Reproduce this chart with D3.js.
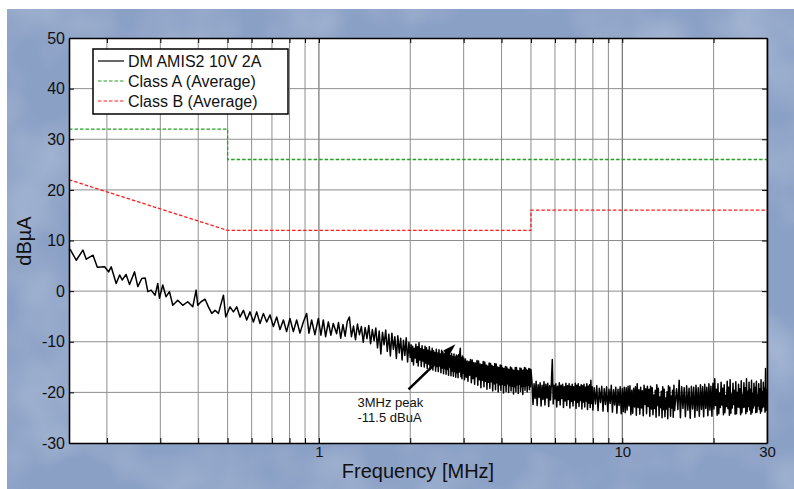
<!DOCTYPE html>
<html>
<head>
<meta charset="utf-8">
<script src="https://cdn.jsdelivr.net/npm/d3@7"></script>
<style>
  body { margin: 0; background: #fff; }
  text { font-family: "Liberation Sans", Arial, Helvetica, sans-serif; }
</style>
</head>
<body>
<svg></svg>
<script>
// ---- data ----
const yTicks = [-30, -20, -10, 0, 10, 20, 30, 40, 50];
const xGrid = [0.2, 0.3, 0.4, 0.5, 0.6, 0.7, 0.8, 0.9, 1, 2, 3, 4, 5, 6, 7, 8, 9, 10, 20, 30];
const xTickLabels = [1, 10, 30];

// limit lines [MHz, dBuA]
const classA = [[0.15, 32], [0.5, 32], [0.5, 26], [30, 26]];
const classB = [[0.15, 22], [0.5, 12], [5, 12], [5, 16], [30, 16]];

// measured DM trace [MHz, dBuA]
const trace = [
  [0.150,8.4],[0.1518,8.1],[0.1585,6.1],[0.1667,8.1],[0.171,6.3],[0.180,7.1],[0.186,4.7],[0.1965,4.8],
  [0.2026,3.8],[0.2066,4.8],[0.2146,1.5],[0.2203,3.2],[0.2246,2.2],[0.2314,3.3],[0.2375,1.3],[0.2467,3.8],
  [0.2529,0.9],[0.2607,2.5],[0.2674,2.6],[0.2729,-0.1],[0.2798,0.2],[0.2884,-0.8],[0.2943,1.5],[0.298,-1.4],
  [0.3056,1.2],[0.3134,-1.1],[0.3216,-0.1],[0.3298,-2.8],[0.3425,-1.8],[0.3557,-2.8],[0.3694,-2.1],[0.3838,-3.1],
  [0.3936,0.2],[0.3987,-2.8],[0.4088,-2.1],[0.4213,-1.6],[0.4323,-3.1],[0.4433,-4.4],[0.4546,-3.8],[0.4664,-4.4],
  [0.4844,-0.8],[0.493,-5.1],[0.5093,-3.1],[0.5225,-4.1],[0.5358,-3.1],[0.5495,-5.1],[0.5638,-3.8],[0.5781,-5.7],
  [0.5927,-4.1],[0.6081,-6.1],[0.6236,-4.1],[0.6394,-6.4],[0.656,-4.4],[0.6727,-6.1],[0.6898,-4.7],[0.7077,-7.0],
  [0.7257,-5.1],[0.744,-7.6],[0.7636,-5.7],[0.7825,-8.0],[0.8026,-5.4],[0.8236,-8.0],[0.8445,-5.7],[0.8659,-8.3],
  [0.8884,-6.1],[0.911,-4.4],[0.9271,-8.3],[0.9462,-5.7],[0.9701,-8.6],[0.9954,-5.4],[1.0153,-8.7],[1.034,-5.7],
  [1.052,-9.0],[1.074,-6.1],[1.095,-8.7],[1.115,-6.4],[1.144,-8.4],
  [1.16,-6.2],[1.18,-9.3],[1.20,-6.6],[1.22,-8.9],[1.24,-6.0],[1.26,-5.1],[1.28,-9.0],[1.30,-6.9],
  [1.32,-9.6],[1.34,-6.5],[1.36,-8.6],[1.38,-7.0],[1.40,-10.1],[1.42,-7.2],[1.44,-9.4],[1.46,-6.8],
  [1.48,-10.4],[1.50,-7.6],[1.52,-9.8],[1.54,-7.3],[1.56,-11.2],[1.58,-7.9],[1.60,-12.4],[1.62,-8.1],
  [1.64,-10.6],[1.66,-7.7],[1.68,-11.9],[1.70,-8.5],[1.72,-12.8],[1.74,-8.3],[1.76,-11.5],[1.78,-9.0],
  [1.80,-13.3],[1.82,-8.8],[1.84,-12.2],[1.86,-9.3],[1.88,-13.6],[1.90,-9.7],[1.92,-12.7],[1.94,-9.2],
  [1.96,-14.0],[1.98,-10.1],[2.00,-13.1],
  [2.0125,-10.6],[2.025,-13.9],[2.0375,-10.9],[2.05,-14.6],[2.0625,-11.3],[2.075,-13.2],[2.0875,-10.5],[2.10,-14.1],
  [2.1125,-11.0],[2.125,-14.8],[2.1375,-10.2],[2.15,-13.6],[2.1625,-11.4],[2.175,-14.9],[2.1875,-10.8],[2.20,-13.8],
  [2.2125,-11.6],[2.225,-15.0],[2.2375,-10.9],[2.25,-14.2],[2.2625,-11.2],[2.275,-15.3],[2.2875,-11.7],[2.30,-14.4],
  [2.3125,-11.0],[2.325,-15.5],[2.3375,-11.9],[2.35,-14.6],[2.3625,-11.3],[2.375,-15.6],[2.3875,-11.8],[2.40,-14.1],
  [2.4125,-12.1],[2.425,-15.8],[2.4375,-11.5],[2.45,-14.9],[2.4625,-12.2],[2.475,-15.9],[2.4875,-11.6],[2.50,-14.8],
  [2.5125,-12.4],[2.525,-16.1],[2.5375,-11.7],[2.55,-15.2],[2.5625,-12.0],[2.575,-16.3],[2.5875,-12.5],[2.60,-15.3],
  [2.6125,-11.9],[2.625,-16.4],[2.6375,-12.6],[2.65,-15.5],[2.6625,-12.1],[2.675,-16.6],[2.6875,-12.2],[2.70,-15.0],
  [2.7125,-12.7],[2.725,-16.7],[2.7375,-12.3],[2.75,-15.8],[2.7625,-12.9],[2.775,-16.8],[2.7875,-12.4],[2.80,-15.9],
  [2.8125,-13.0],[2.825,-17.0],[2.8375,-12.6],[2.85,-16.1],[2.8625,-12.8],[2.875,-17.1],[2.8875,-12.5],[2.90,-16.0],
  [2.9125,-12.2],[2.925,-11.3],[2.9375,-16.9],[2.95,-13.1],[2.9625,-17.3],[2.975,-12.8],[2.9875,-16.2],[3.00,-13.2],
  [3.02,-17.5],[3.04,-13.4],[3.06,-17.0],[3.08,-13.8],[3.10,-17.8],[3.12,-13.9],[3.14,-16.6],[3.16,-13.5],
  [3.18,-18.1],[3.20,-13.6],[3.22,-17.3],[3.24,-14.1],[3.26,-18.4],[3.28,-14.2],[3.30,-16.9],[3.32,-13.7],
  [3.34,-18.6],[3.36,-13.8],[3.38,-17.5],[3.40,-14.4],[3.42,-19.1],[3.44,-14.5],[3.46,-17.6],[3.48,-13.9],
  [3.50,-18.9],[3.52,-14.0],[3.54,-17.8],[3.56,-14.6],[3.58,-19.4],[3.60,-14.8],[3.62,-18.0],[3.64,-14.2],
  [3.66,-19.2],[3.68,-14.3],[3.70,-17.9],[3.72,-14.7],[3.74,-19.7],[3.76,-14.9],[3.78,-18.3],[3.80,-14.3],
  [3.82,-19.5],[3.84,-14.4],[3.86,-18.1],[3.88,-15.0],[3.90,-19.9],[3.92,-15.1],[3.94,-18.5],[3.96,-14.6],
  [3.98,-19.6],[4.00,-14.7],[4.02,-18.4],[4.04,-15.2],[4.06,-20.1],[4.08,-15.3],[4.10,-18.6],[4.12,-14.9],
  [4.14,-19.8],[4.16,-15.0],[4.18,-18.3],[4.20,-15.4],[4.22,-20.0],[4.24,-15.5],[4.26,-18.7],[4.28,-15.0],
  [4.30,-19.7],[4.32,-15.2],[4.34,-18.8],[4.36,-15.6],[4.38,-20.3],[4.40,-15.7],[4.42,-18.9],[4.44,-15.1],
  [4.46,-19.9],[4.48,-15.1],[4.50,-18.5],[4.52,-15.7],[4.54,-20.2],[4.56,-15.8],[4.58,-18.4],[4.60,-15.2],
  [4.62,-19.8],[4.64,-15.3],[4.66,-18.9],[4.68,-15.7],[4.70,-20.4],[4.72,-15.6],[4.74,-18.8],[4.76,-15.1],
  [4.78,-19.6],[4.80,-15.2],[4.82,-18.7],[4.84,-15.6],[4.86,-19.9],[4.88,-15.7],[4.90,-18.6],[4.92,-15.3],
  [4.94,-19.5],[4.96,-15.4],[4.98,-18.9],[5.00,-15.5],
  [5.04,-18.0],[5.08,-22.4],[5.12,-18.3],[5.16,-21.2],[5.20,-17.8],[5.24,-22.6],[5.28,-18.5],[5.32,-21.0],
  [5.36,-18.1],[5.40,-22.7],[5.44,-18.6],[5.48,-21.4],[5.52,-17.9],[5.56,-22.5],[5.60,-18.4],[5.64,-21.1],
  [5.68,-18.2],[5.72,-22.8],[5.76,-18.7],[5.80,-21.5],[5.84,-18.0],[5.88,-13.5],[5.92,-22.3],[5.96,-18.6],
  [6.00,-21.3],[6.04,-18.3],[6.08,-22.9],[6.12,-18.8],[6.16,-21.6],[6.20,-18.1],[6.24,-22.5],[6.28,-18.6],
  [6.32,-21.2],[6.36,-18.4],[6.40,-23.0],[6.44,-18.9],[6.48,-21.7],[6.52,-18.2],[6.56,-22.6],[6.60,-18.7],
  [6.64,-21.4],[6.68,-18.3],[6.72,-23.1],[6.76,-18.8],[6.80,-21.8],[6.84,-18.4],[6.88,-22.7],[6.92,-18.9],
  [6.96,-21.5],[7.00,-18.2],[7.04,-23.2],[7.08,-18.6],[7.12,-22.0],[7.16,-18.3],[7.20,-22.8],[7.24,-18.9],
  [7.28,-21.6],[7.32,-18.5],[7.36,-23.3],[7.40,-18.7],[7.44,-21.9],[7.48,-18.4],[7.52,-22.9],[7.56,-19.0],
  [7.60,-21.7],[7.64,-18.3],[7.68,-23.4],[7.72,-18.8],[7.76,-22.1],[7.80,-18.5],[7.84,-23.0],[7.88,-17.6],
  [7.92,-22.2],[7.96,-18.9],[8.00,-23.5],[8.08,-19.1],[8.16,-22.3],[8.24,-18.7],[8.32,-23.6],[8.40,-19.2],
  [8.48,-22.0],[8.56,-18.8],[8.64,-23.7],[8.72,-19.3],[8.80,-22.4],[8.88,-18.9],[8.96,-23.8],[9.04,-19.4],
  [9.12,-22.2],[9.20,-18.6],[9.28,-23.9],[9.36,-19.5],[9.44,-22.5],[9.52,-19.0],[9.60,-24.1],[9.68,-19.4],
  [9.76,-22.6],[9.84,-18.9],[9.92,-24.2],[10.0,-19.3],
  [10.075,-23.8],[10.15,-19.0],[10.225,-24.0],[10.30,-19.1],[10.375,-23.5],[10.45,-18.8],[10.525,-22.7],[10.60,-18.7],
  [10.675,-24.4],[10.75,-19.6],[10.825,-24.1],[10.90,-19.2],[10.975,-22.9],[11.05,-18.9],[11.125,-24.5],[11.20,-18.3],
  [11.275,-23.0],[11.35,-19.5],[11.425,-24.3],[11.50,-19.0],[11.575,-23.1],[11.65,-19.7],[11.725,-24.6],[11.80,-18.6],
  [11.875,-22.4],[11.95,-19.3],[12.025,-24.2],[12.10,-18.8],[12.175,-22.8],[12.25,-19.4],[12.325,-24.7],[12.40,-18.8],
  [12.475,-23.3],[12.55,-19.1],[12.625,-24.4],[12.70,-20.5],[12.775,-23.2],[12.85,-19.6],[12.925,-24.9],[13.00,-18.5],
  [13.075,-22.6],[13.15,-19.2],[13.225,-24.6],[13.30,-20.9],[13.375,-23.0],[13.45,-19.8],[13.525,-25.0],[13.60,-18.9],
  [13.675,-23.4],[13.75,-19.4],[13.825,-24.8],[13.90,-21.1],[13.975,-23.3],[14.05,-19.9],[14.125,-25.2],[14.20,-18.7],
  [14.275,-22.9],[14.35,-19.0],[14.425,-24.7],[14.50,-20.7],[14.575,-23.1],[14.65,-19.6],[14.725,-24.9],[14.80,-18.6],
  [14.875,-23.6],
  [15.10,-19.3],[15.25,-23.4],[15.40,-17.6],[15.55,-25.0],[15.70,-18.9],[15.85,-23.2],[16.00,-19.1],
  [16.15,-24.8],[16.30,-18.7],[16.45,-23.5],[16.60,-19.2],[16.75,-25.1],[16.90,-18.8],[17.05,-23.3],[17.20,-19.0],
  [17.35,-24.9],[17.50,-18.6],[17.65,-23.6],[17.80,-19.1],[17.95,-24.7],[18.10,-18.5],[18.25,-23.4],[18.40,-18.9],
  [18.55,-24.8],[18.70,-18.4],[18.85,-23.2],[19.00,-19.0],[19.15,-24.6],[19.30,-18.3],[19.45,-23.5],[19.60,-18.8],
  [19.75,-24.7],[19.90,-18.2],[20.05,-23.3],
  [20.175,-17.3],[20.30,-22.6],[20.425,-19.4],[20.55,-24.5],[20.675,-18.3],[20.80,-24.2],[20.925,-20.1],[21.05,-23.0],
  [21.175,-18.0],[21.30,-22.5],[21.425,-19.2],[21.55,-24.4],[21.675,-18.5],[21.80,-24.0],[21.925,-20.6],[22.05,-22.8],
  [22.175,-17.8],[22.30,-23.2],[22.425,-19.0],[22.55,-24.5],[22.675,-17.5],[22.80,-24.1],[22.925,-20.3],[23.05,-23.1],
  [23.175,-18.2],[23.30,-22.4],[23.425,-19.6],[23.55,-24.3],[23.675,-17.9],[23.80,-24.2],[23.925,-20.0],[24.05,-22.9],
  [24.175,-18.4],[24.30,-23.0],[24.425,-19.3],[24.55,-24.4],[24.675,-17.7],[24.80,-24.0],[24.925,-20.4],[25.05,-23.0],
  [25.175,-18.1],[25.30,-22.9],[25.425,-19.1],[25.55,-24.2],[25.675,-17.3],[25.80,-23.8],[25.925,-19.8],[26.05,-22.8],
  [26.175,-18.0],[26.30,-23.5],[26.425,-19.4],[26.55,-24.3],[26.675,-17.6],[26.80,-24.0],[26.925,-20.2],[27.05,-23.1],
  [27.175,-18.2],[27.30,-22.6],[27.425,-19.0],[27.55,-24.0],[27.675,-17.8],[27.80,-23.9],[27.925,-20.5],[28.05,-22.7],
  [28.175,-18.3],[28.30,-23.4],[28.425,-19.3],[28.55,-24.1],[28.675,-17.5],[28.80,-23.7],[28.925,-19.9],[29.05,-23.0],
  [29.175,-18.0],[29.30,-22.8],[29.425,-19.2],[29.55,-23.9],[29.675,-15.3],[29.80,-23.6],[29.925,-19.5],[30.00,-22.0]
];

const legendItems = [
  { label: "DM AMIS2 10V 2A", color: "#000", dash: null },
  { label: "Class A (Average)", color: "#22a022", dash: "3.5,2" },
  { label: "Class B (Average)", color: "#ff1a1a", dash: "3.5,2" }
];

// annotation: arrow tail/head and text anchor in data units
const peakArrow = [[1.974, -19.4], [2.818, -10.5]];
const peakText = [[1.34, "3MHz peak"], [1.34, "-11.5 dBuA"]];

// ---- layout ----
const W = 794, H = 489;
const margin = { top: 38, right: 27, bottom: 46, left: 69 };
const graphWidth = W - margin.left - margin.right;
const graphHeight = H - margin.top - margin.bottom;

const svg = d3.select("svg").attr("width", W).attr("height", H);

// mottled blue backdrop
const defs = svg.append("defs");
const f = defs.append("filter").attr("id", "mottle")
  .attr("x", 0).attr("y", 0).attr("width", "100%").attr("height", "100%");
f.append("feTurbulence").attr("type", "fractalNoise")
  .attr("baseFrequency", "0.011").attr("numOctaves", 3).attr("seed", 7);
f.append("feColorMatrix").attr("type", "matrix")
  .attr("values", "0 0 0 0 1  0 0 0 0 1  0 0 0 0 1  1.6 0 0 0 -0.7");

svg.append("rect").attr("x", 7).attr("y", 9).attr("width", W - 7).attr("height", H - 9)
  .attr("fill", "#8aa0c5");
svg.append("rect").attr("x", 7).attr("y", 9).attr("width", W - 7).attr("height", H - 9)
  .attr("filter", "url(#mottle)").attr("opacity", 0.35);

const graph = svg.append("g")
  .attr("transform", `translate(${margin.left}, ${margin.top})`);

graph.append("rect").attr("width", graphWidth).attr("height", graphHeight).attr("fill", "#fff");

const x = d3.scaleLog().domain([0.15, 30]).range([0, graphWidth]);
const y = d3.scaleLinear().domain([-30, 50]).range([graphHeight, 0]);

// grid
graph.append("g").selectAll("line").data(xGrid).enter().append("line")
  .attr("x1", (d) => x(d)).attr("x2", (d) => x(d))
  .attr("y1", 0).attr("y2", graphHeight)
  .attr("stroke", (d) => (d === 1 || d === 10 ? "#555" : "#8e8e8e"))
  .attr("stroke-width", 1);
graph.append("g").selectAll("line").data(yTicks.slice(1, -1)).enter().append("line")
  .attr("x1", 0).attr("x2", graphWidth)
  .attr("y1", (d) => y(d)).attr("y2", (d) => y(d))
  .attr("stroke", "#8e8e8e").attr("stroke-width", 1);

// limit lines
const line = d3.line().x((d) => x(d[0])).y((d) => y(d[1]));
graph.append("path").datum(classA).attr("d", line)
  .attr("fill", "none").attr("stroke", legendItems[1].color)
  .attr("stroke-width", 1.3).attr("stroke-dasharray", legendItems[1].dash);
graph.append("path").datum(classB).attr("d", line)
  .attr("fill", "none").attr("stroke", legendItems[2].color)
  .attr("stroke-width", 1.3).attr("stroke-dasharray", legendItems[2].dash);

// trace
graph.append("path").datum(trace).attr("d", line)
  .attr("fill", "none").attr("stroke", "#000")
  .attr("stroke-width", 1.5).attr("stroke-linejoin", "round");

// annotation arrow
const [t0, t1] = peakArrow.map((p) => [x(p[0]), y(p[1])]);
const ang = Math.atan2(t1[1] - t0[1], t1[0] - t0[0]);
const headLen = 13, headW = 4;
graph.append("line")
  .attr("x1", t0[0]).attr("y1", t0[1])
  .attr("x2", t1[0] - Math.cos(ang) * (headLen - 2))
  .attr("y2", t1[1] - Math.sin(ang) * (headLen - 2))
  .attr("stroke", "#000").attr("stroke-width", 2.6);
const bx = t1[0] - Math.cos(ang) * headLen, by = t1[1] - Math.sin(ang) * headLen;
graph.append("path")
  .attr("d", `M${t1[0]},${t1[1]}L${bx + Math.sin(ang) * headW},${by - Math.cos(ang) * headW}` +
    `L${bx - Math.sin(ang) * headW},${by + Math.cos(ang) * headW}Z`)
  .attr("fill", "#000");
graph.append("g").selectAll("text").data(peakText).enter().append("text")
  .attr("x", (d) => x(d[0]))
  .attr("y", (d, i) => y(-22.9) + i * 14.5)
  .attr("font-size", 13).attr("fill", "#111")
  .text((d) => d[1]);

// axes with inward ticks
const fmt = (d) => (xTickLabels.includes(d) ? d : "");
const xAxis = d3.axisBottom(x).tickValues(xGrid).tickFormat(fmt).tickSizeInner(-5).tickSizeOuter(0).tickPadding(3);
const xAxisTop = d3.axisTop(x).tickValues(xGrid).tickFormat("").tickSizeInner(-5).tickSizeOuter(0);
const yAxis = d3.axisLeft(y).tickValues(yTicks).tickFormat((d) => String(d))
  .tickSizeInner(-5).tickSizeOuter(0).tickPadding(4);
const yAxisRight = d3.axisRight(y).tickValues(yTicks).tickFormat("").tickSizeInner(-5).tickSizeOuter(0);

const xAxisGroup = graph.append("g").attr("transform", `translate(0, ${graphHeight})`).call(xAxis);
const xTopGroup = graph.append("g").call(xAxisTop);
const yAxisGroup = graph.append("g").call(yAxis);
const yRightGroup = graph.append("g").attr("transform", `translate(${graphWidth}, 0)`).call(yAxisRight);

[xAxisGroup, xTopGroup, yAxisGroup, yRightGroup].forEach((g) => {
  g.select(".domain").attr("stroke", "#000").attr("stroke-width", 1.6);
  g.selectAll(".tick line").attr("stroke", "#000");
  g.selectAll("text").attr("fill", "#111").style("font-family", '"Liberation Sans", Arial, sans-serif');
});
xAxisGroup.selectAll("text").attr("font-size", 15);
yAxisGroup.selectAll("text").attr("font-size", 16);

// axis titles
svg.append("text").attr("x", margin.left + graphWidth / 2).attr("y", 478)
  .attr("text-anchor", "middle").attr("font-size", 20).attr("fill", "#111")
  .text("Frequency [MHz]");
svg.append("text").attr("transform", "translate(31, 241) rotate(-90)")
  .attr("text-anchor", "middle").attr("font-size", 20).attr("fill", "#111")
  .text("dBµA");

// legend
const legend = svg.append("g").attr("transform", "translate(93, 49)");
legend.append("rect").attr("width", 195).attr("height", 65)
  .attr("fill", "#fff").attr("stroke", "#000").attr("stroke-width", 1.5);
const rows = legend.selectAll("g").data(legendItems).enter().append("g")
  .attr("transform", (d, i) => `translate(0, ${12 + i * 20})`);
rows.append("line").attr("x1", 5).attr("x2", 31).attr("y1", 0).attr("y2", 0)
  .attr("stroke", (d) => d.color).attr("stroke-width", 1.2)
  .attr("stroke-dasharray", (d) => d.dash);
rows.append("text").attr("x", 35).attr("y", 5.5).attr("font-size", 16).attr("fill", "#111")
  .text((d) => d.label);
</script>
</body>
</html>
